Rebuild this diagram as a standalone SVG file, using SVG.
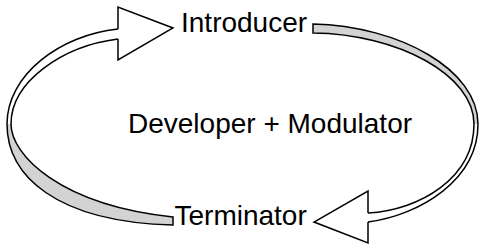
<svg xmlns="http://www.w3.org/2000/svg" width="480" height="249" viewBox="0 0 480 249">
<style>
.lbl{font-family:"Liberation Sans",Arial,sans-serif;font-size:28px;fill:#000}
.edge{fill:none;stroke:#000;stroke-width:1.5;stroke-linejoin:miter}
.under{fill:#d3d3d3;stroke:none}
.head{fill:#fff;stroke:#000;stroke-width:1.5;stroke-linejoin:miter}
</style>
<rect width="480" height="249" fill="#fff"/>
<g id="connectors">
<g id="arrow-terminator-to-introducer">
<path class="under" d="M7,124 C7,175 55,222 173,225 L173,217 C60,205 11,155 11,124 Z"/>
<path class="edge" d="M118,29 C60,35 7,75 7,124 C7,175 55,222 173,225 L173,217 C60,205 11,155 11,124 C11,82 62,46 118,39"/>
<path class="head" d="M118,29 L118,7 L173,28 L118,60 L118,39"/>
</g>
<g id="arrow-introducer-to-terminator">
<path class="under" d="M313,24 C400,26 478,70 478,124 L474,124 C474,75 398,34 313,33 Z"/>
<path class="edge" d="M368,222 C420,215 478,180 478,124 C478,70 400,26 313,24 L313,33 C398,34 474,75 474,124 C474,178 420,210 368,213"/>
<path class="head" d="M368,213 L368,191 L314,222 L368,243 L368,222"/>
</g>
</g>
<g id="node-introducer"><text class="lbl" x="181" y="32">Introducer</text></g>
<g id="node-developer-modulator"><text class="lbl" x="128" y="133">Developer + Modulator</text></g>
<g id="node-terminator"><text class="lbl" x="174.5" y="225">Terminator</text></g>
</svg>
